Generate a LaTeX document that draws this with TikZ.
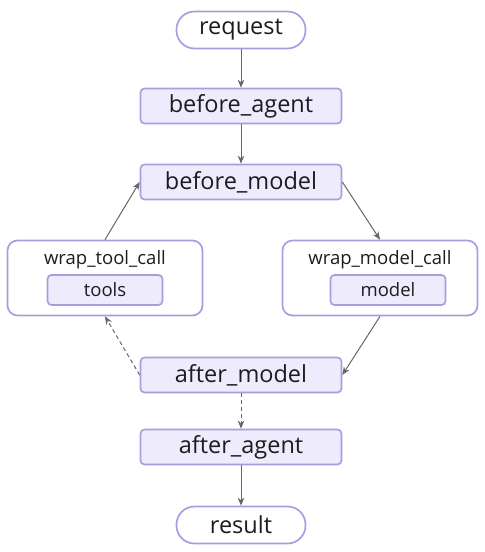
\documentclass[tikz,border=0pt]{standalone}
\usepackage{fontspec}
\setmainfont{Open Sans}
\usetikzlibrary{arrows.meta,positioning}
\definecolor{lav}{HTML}{A79DDF}
\definecolor{lavfill}{HTML}{EEEBFD}
\definecolor{arrgray}{HTML}{666666}
\definecolor{txt}{HTML}{1C1C1C}
\tikzset{box/.style={draw=lav,line width=1.7pt,rounded corners=4pt,fill=lavfill,text=txt,minimum width=201pt,minimum height=35pt,inner sep=0pt,font=\fontsize{23.5}{28}\selectfont},
  pill/.style={box,fill=white,rounded corners=18pt,minimum width=129pt,minimum height=37pt},
  wrap/.style={draw=lav,line width=1.7pt,rounded corners=10pt,fill=white,minimum width=195pt,minimum height=75pt,inner sep=0pt},
  inbox/.style={box,minimum width=115pt,minimum height=30pt,font=\fontsize{18.5}{22}\selectfont},
  wlabel/.style={text=txt,inner sep=0pt,font=\fontsize{18.5}{22}\selectfont},
  arr/.style={-{Stealth[length=8pt,width=6.5pt]},arrgray,line width=1pt},
  dashline/.style={dash pattern=on 4pt off 3pt}}

\begin{document}
\begin{tikzpicture}[x=1pt,y=-1pt]
\useasboundingbox (0,0) rectangle (485,552);
\node[pill] (req) at (241,30){request}; \node[box] (ba) at (241,106){before\_agent}; \node[box] (bm) at (241,182){before\_model};
\node[wrap] (wt) at (105,278){}; \node[wlabel] (wtl) at (105,260){wrap\_tool\_call}; \node[inbox] (tools) at (105,290){tools};
\node[wrap] (wm) at (380,278){}; \node[wlabel] (wml) at (380,260){wrap\_model\_call}; \node[inbox] (model) at (388,290){model};
\node[box] (am) at (241,375){after\_model}; \node[box] (aa) at (241,447){after\_agent}; \node[pill] (res) at (241,525){result};
\draw[arr] (req)--(ba); \draw[arr] (ba)--(bm);
\draw[arr] (bm.east)--(wm.north); \draw[arr] (wm.south)--(am.east);
\draw[arr,dashline] (am.west)--(wt.south); \draw[arr] (wt.north)--(bm.west);
\draw[arr,dashline] (am)--(aa); \draw[arr] (aa)--(res);
\end{tikzpicture}
\end{document}
